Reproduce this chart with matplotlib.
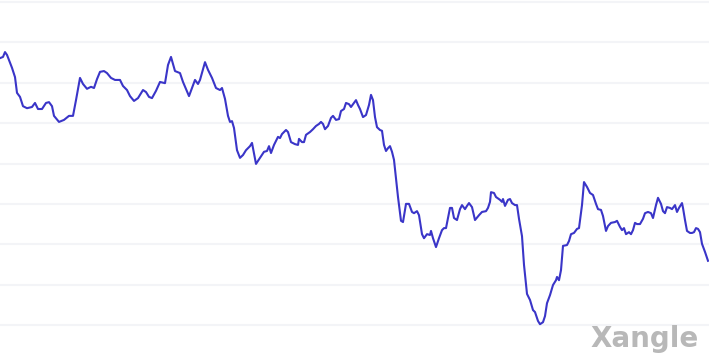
import matplotlib
matplotlib.use('Agg')
import matplotlib.pyplot as plt

# time position (roughly day index) and value
t = [0, 3, 5, 7, 12, 15, 17, 20, 23, 27, 32, 35, 38, 42, 46, 49, 52, 54, 59, 64,
     69, 73, 76, 80, 83, 87, 91, 94, 97, 100, 104, 107, 111, 115, 120, 123, 127, 130, 134, 138,
     143, 146, 149, 152, 156, 160, 165, 168, 171, 175, 180, 183, 189, 192, 195, 198, 200, 205, 208, 212,
     216, 220, 222, 225, 228, 230, 232, 234, 237, 240, 243, 246, 250, 252, 256, 260, 264, 267, 269, 271,
     274, 278, 280, 282, 286, 288, 291, 295, 298, 299, 302, 304, 306, 310, 313, 316, 319, 321, 323, 325,
     328, 331, 333, 336, 339, 341, 344, 346, 349, 351, 354, 356, 358, 360, 363, 366, 369, 371, 373, 375,
     377, 380, 382, 384, 386, 388, 390, 392, 394, 396, 398, 401, 403, 406, 409, 412, 414, 417, 419, 422,
     424, 427, 430, 431, 433, 436, 439, 442, 444, 446, 448, 450, 452, 454, 457, 460, 462, 465, 467, 469,
     472, 475, 479, 482, 486, 488, 490, 491, 494, 496, 500, 502, 503, 505, 508, 510, 512, 515, 517, 519,
     522, 524, 527, 530, 533, 535, 538, 540, 543, 545, 547, 550, 553, 556, 557, 559, 561, 563, 567, 569,
     571, 574, 577, 579, 582, 584, 587, 590, 593, 596, 598, 601, 603, 606, 608, 611, 615, 617, 620, 622,
     624, 626, 629, 631, 633, 635, 637, 640, 643, 645, 648, 651, 653, 656, 658, 661, 663, 665, 667, 670,
     672, 675, 677, 679, 682, 683, 685, 687, 690, 692, 694, 696, 698, 700, 702, 705, 708]

value = [66.1, 66.4, 67.6, 66.9, 63.7, 61.4, 57.5, 56.5, 54.2, 53.7, 54.0, 55.0, 53.5, 53.5, 55.0, 55.2, 54.2, 51.8, 50.3, 50.8,
         51.8, 51.8, 55.7, 61.2, 59.7, 58.5, 59.0, 58.7, 60.9, 62.7, 62.9, 62.4, 61.2, 60.7, 60.7, 59.2, 58.2, 56.7, 55.5, 56.2,
         58.2, 57.7, 56.5, 56.2, 58.0, 60.2, 59.9, 64.4, 66.4, 62.9, 62.4, 60.2, 56.7, 58.7, 60.7, 59.7, 60.7, 65.1, 63.2, 61.2,
         58.7, 58.2, 58.7, 56.0, 51.8, 50.3, 50.5, 48.8, 43.3, 41.4, 42.1, 43.3, 44.3, 45.1, 39.9, 41.4, 42.9, 43.1, 44.3, 42.6,
         44.6, 46.6, 46.3, 47.3, 48.3, 47.8, 45.3, 44.8, 44.6, 46.1, 45.3, 45.3, 47.1, 47.8, 48.5, 49.3, 49.8, 50.3, 49.8, 48.5,
         49.3, 51.3, 51.8, 50.8, 51.0, 53.0, 53.5, 55.0, 54.7, 54.0, 55.0, 55.7, 54.5, 53.5, 51.5, 52.0, 54.5, 57.0, 55.7, 51.5,
         49.0, 48.3, 48.1, 44.6, 43.1, 43.8, 44.3, 42.9, 40.9, 36.4, 31.7, 25.8, 25.5, 30.0, 30.0, 28.0, 27.7, 28.2, 27.2, 22.5,
         21.5, 22.5, 22.3, 23.3, 21.5, 19.3, 21.5, 23.5, 24.0, 24.0, 26.5, 29.0, 29.0, 26.5, 26.0, 28.7, 29.7, 28.7, 29.5, 30.2,
         29.2, 26.0, 27.2, 28.0, 28.2, 29.0, 30.5, 32.9, 32.7, 31.7, 31.0, 30.5, 31.2, 29.5, 31.0, 31.2, 30.2, 29.7, 29.7, 26.3,
         22.0, 14.9, 7.7, 6.2, 3.7, 3.2, 1.0, 0.2, 0.7, 2.2, 5.4, 7.4, 9.9, 11.1, 11.9, 11.1, 13.6, 19.6, 19.8, 20.8,
         22.5, 22.8, 23.8, 24.0, 29.7, 35.4, 34.2, 32.7, 32.2, 30.0, 28.7, 28.5, 27.0, 23.3, 24.5, 25.3, 25.5, 25.8, 24.3, 23.5,
         24.0, 22.5, 23.0, 22.5, 23.5, 25.3, 25.0, 25.0, 26.3, 27.7, 28.0, 27.7, 26.5, 29.7, 31.5, 30.0, 28.2, 27.7, 29.2, 29.0,
         28.7, 29.7, 28.0, 29.0, 30.2, 29.0, 26.0, 23.3, 22.8, 22.8, 23.0, 24.0, 23.8, 23.0, 20.1, 18.1, 15.9]

grid_levels = [0, 10, 20, 30, 40, 50, 60, 70, 80]

fig = plt.figure(figsize=(7.09, 3.64), dpi=100)
ax = fig.add_axes([0, 0, 1, 1])

for g in grid_levels:
    ax.axhline(g, color='#f3f4f7', linewidth=1.5, zorder=1)

ax.plot(t, value, color='#3a35c8', linewidth=1.5, zorder=3)

ax.set_xlim(0, 709)
ax.set_ylim(-9.66, 80.5)
ax.axis('off')

fig.text(0.986, 0.03, 'Xangle', ha='right', va='bottom', fontsize=20,
         fontweight='bold', color='#b8b8b8', family='DejaVu Sans')

fig.savefig('out.png', dpi=100, facecolor='white')
